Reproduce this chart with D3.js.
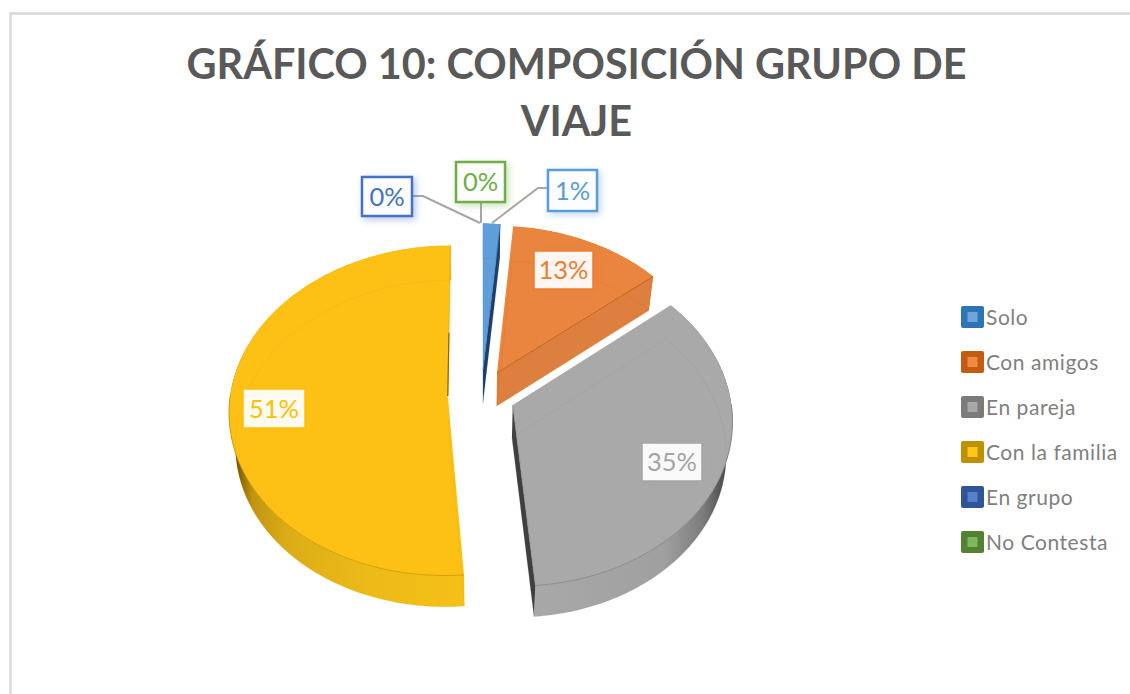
<!DOCTYPE html>
<html><head><meta charset="utf-8">
<script src="https://cdnjs.cloudflare.com/ajax/libs/d3/7.8.5/d3.min.js"></script>
<style>html,body{margin:0;padding:0;background:#fff}svg{display:block}</style>
</head><body><svg id="c" width="1130" height="694"></svg>
<script>
const titleLines = ["GRÁFICO 10: COMPOSICIÓN GRUPO DE", "VIAJE"];
const categories = ["Solo", "Con amigos", "En pareja", "Con la familia", "En grupo", "No Contesta"];
const values = [1.4, 12.6, 34.7, 51.3, 0, 0];
const valueLabels = ["1%", "13%", "35%", "51%", "0%", "0%"];
const topColors = ["#5f9ed8", "#e9853f", "#a9a9a9", "#fdc116", "#4472c4", "#70ad47"];
const legendDark = ["#2e75b6", "#c55a11", "#7b7b7b", "#bf9000", "#2f5597", "#548235"];
const legendLight = ["#6fa5da", "#ef8a47", "#a8a8a8", "#ffc61a", "#5580cc", "#7fb85a"];
const labelBorder = ["#5b9bd5", "#ed7d31", "#a5a5a5", "#ffc000", "#4472c4", "#70ad47"];
const labelText = ["#5b9bd5", "#ed7d31", "#a5a5a5", "#ffc000", "#4472c4", "#70ad47"];
const sideColors = ["#1f3f66", "#dd7f3e", "#3f3f3f", "#8a6a05", "#4472c4", "#70ad47"];
const wallStops = [
  [[0,"#2e75b6"],[1,"#2e75b6"]],
  [[0,"#dd7f3e"],[1,"#dd7f3e"]],
  [[0,"#a8a8a8"],[.65,"#a0a0a0"],[.85,"#7c7c7c"],[.96,"#4d4d4d"],[1,"#4d4d4d"]],
  [[0,"#6e5204"],[.035,"#7a5c04"],[.1,"#c09510"],[.25,"#dcac18"],[.6,"#ecbb18"],[1,"#f5c016"]],
  [[0,"#4472c4"],[1,"#4472c4"]],
  [[0,"#70ad47"],[1,"#70ad47"]]
];
const edgeColors = ["#3f7fbd", "#c8611c", "#8a8a8a", "#d49f06", "#4472c4", "#70ad47"];

const geom = {cx:481.5, cy:395, rx:217.5, ry:163.5, explode:.155, persp:.088, depth:33, shrinkX:.975, shrinkY:.99};

const svg = d3.select("#c");
const defs = svg.append("defs");
labelBorder.forEach((c,i)=>{
  defs.append("filter").attr("id","sh"+i).attr("x","-30%").attr("y","-30%").attr("width","170%").attr("height","170%")
    .append("feDropShadow").attr("dx",2.5).attr("dy",2.5).attr("stdDeviation",3.5).attr("flood-color",c).attr("flood-opacity",.4);
});

svg.append("path").attr("d","M1130,13.5H10.5V694").attr("fill","none").attr("stroke","#d9d9d9").attr("stroke-width",2.5);

const title = svg.append("g").attr("font-family","Lato").attr("font-weight",700).attr("font-size",41.4).attr("fill","#595959").attr("text-anchor","middle");
title.selectAll("text").data(titleLines).join("text").attr("x",576.5).attr("y",(d,i)=>79+i*57).text(d=>d);

const pie = d3.pie().sort(null).value(d=>d)(values);

function project(theta, r, mid, z){
  const X = r*Math.sin(theta) + geom.explode*Math.sin(mid);
  const Y = -r*Math.cos(theta) - geom.explode*Math.cos(mid);
  const s = 1/(1 - geom.persp*Y);
  const kx = z ? geom.shrinkX : 1, ky = z ? geom.shrinkY : 1;
  return [geom.cx + kx*geom.rx*X*s, geom.cy + ky*geom.ry*Y*s + z*geom.depth];
}
const line = d3.line();
function arcRange(a0, a1, mid, z){
  const n = Math.max(2, Math.ceil((a1-a0)/.02));
  return d3.range(n+1).map(i=>project(a0+(a1-a0)*i/n,1,mid,z));
}
const midOf = a => (a.startAngle+a.endAngle)/2;
function arcPts(a, z){ return arcRange(a.startAngle,a.endAngle,midOf(a),z); }
function face(a, z){ return line([project(0,0,midOf(a),z),...arcPts(a,z)])+"Z"; }
function cut(a, ang){ const mid=midOf(a);
  return line([project(0,0,mid,0),project(ang,1,mid,0),project(ang,1,mid,1),project(0,0,mid,1)])+"Z"; }

const order = [2,3,1,0].map(i=>pie[i]);
const gPie = svg.append("g");
order.forEach(a=>{
  const i = a.index, mid = midOf(a);
  const top = arcPts(a,0), bot = arcPts(a,1);
  const ex = d3.extent(top,p=>p[0]);
  const grad = defs.append("linearGradient").attr("id","w"+i).attr("gradientUnits","userSpaceOnUse")
    .attr("x1", i===3?ex[0]:ex[1]).attr("x2", i===3?ex[1]:ex[0]).attr("y1",0).attr("y2",0);
  const stops = i===2 ? wallStops[i].map(([o,c])=>[1-o,c]).reverse() : wallStops[i];
  grad.selectAll("stop").data(stops).join("stop").attr("offset",d=>d[0]).attr("stop-color",d=>d[1]);
  const g = gPie.append("g");
  g.append("path").attr("d",line([...top,...bot.slice().reverse()])+"Z").attr("fill",`url(#w${i})`);
  if (i !== 3) g.append("path").attr("d",cut(a,a.endAngle)).attr("fill",sideColors[i]);
  g.append("path").attr("d",face(a,0)).attr("fill",topColors[i]);
  g.append("path").attr("d",face(a,1)).attr("fill","none").attr("stroke",edgeColors[i]).attr("stroke-opacity",.16).attr("stroke-width",1);
  g.append("path").attr("d",line([project(0,0,mid,0),project(a.endAngle,1,mid,0)])).attr("fill","none").attr("stroke",edgeColors[i]).attr("stroke-width",i===1?1:.6);
  if (i === 3) g.append("path").attr("d",line([project(0,0,mid,0),project(a.endAngle,.4,mid,0)])).attr("fill","none").attr("stroke",sideColors[i]).attr("stroke-width",1.2);
  const a0 = Math.max(a.startAngle, Math.PI/2), a1 = Math.min(a.endAngle, Math.PI*1.5);
  if (a1 > a0) g.append("path").attr("d",line(arcRange(a0,a1,mid,0))).attr("fill","none").attr("stroke",edgeColors[i]).attr("stroke-width",1);
});

// leader lines
const leaders = [[[547,188],[538,188],[492,223]], [[412,196],[423,196],[480,223]], [[481,202],[481,223]]];
svg.append("g").selectAll("path").data(leaders).join("path").attr("d",d=>line(d)).attr("fill","none").attr("stroke","#a6a6a6").attr("stroke-width",2);

// data labels: index, box left, top, width, height, border width
const labelBoxes = [[0,548,170,49,41,2.5],[1,534,251,59,38,1.5],[2,642,443,60,38,1.5],[3,243,389,62,39,1.5],[4,362,177,50,39,2.5],[5,456,162,49,40,2.5]];
const gl = svg.append("g");
labelBoxes.forEach(([i,x,y,w,h,b])=>{
  gl.append("rect").attr("x",x).attr("y",y).attr("width",w).attr("height",h).attr("fill","#fff").attr("fill-opacity",.92)
    .attr("stroke",labelBorder[i]).attr("stroke-width",b).attr("filter",`url(#sh${i})`);
  gl.append("text").attr("x",x+w/2).attr("y",y+h/2+9).attr("text-anchor","middle").attr("font-family","Lato").attr("font-size",25.5)
    .attr("fill",labelText[i]).text(valueLabels[i]);
});

// legend
const ly = d3.scalePoint().domain(categories).range([317,542]);
const lg = svg.append("g").selectAll("g").data(categories).join("g").attr("transform",d=>`translate(961,${ly(d)})`);
lg.append("rect").attr("x",0).attr("y",-11).attr("width",23).attr("height",22).attr("rx",2).attr("fill",(d,i)=>legendDark[i]);
lg.append("rect").attr("x",6.5).attr("y",-5).attr("width",10).attr("height",10).attr("fill",(d,i)=>legendLight[i]);
lg.append("text").attr("x",25).attr("y",7.5).attr("font-family","Lato").attr("font-size",21).attr("letter-spacing",.55).attr("fill","#7f7f7f").text(d=>d);
</script></body></html>
